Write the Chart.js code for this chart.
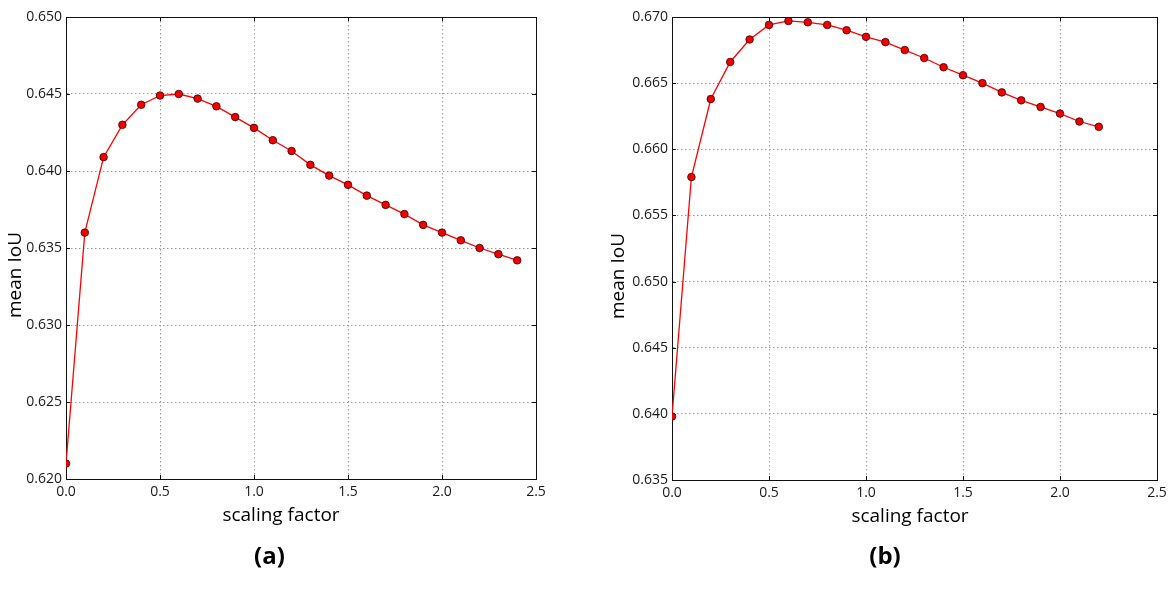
<!DOCTYPE html>
<html>
<head>
<meta charset="utf-8">
<script src="https://cdn.jsdelivr.net/npm/chart.js@4.4.1/dist/chart.umd.min.js"></script>
<style>
html,body{margin:0;padding:0;background:#fff;}
#wrap{position:relative;width:1175px;height:600px;overflow:hidden;}
.box{position:absolute;top:0;height:600px;width:575px;}
</style>
</head>
<body>
<div id="wrap">
  <div class="box" style="left:0px"><canvas id="chartA"></canvas></div>
  <div class="box" style="left:600px"><canvas id="chartB"></canvas></div>
</div>
<script>
// ---- data ----
const scalingA = [0.0,0.1,0.2,0.3,0.4,0.5,0.6,0.7,0.8,0.9,1.0,1.1,1.2,1.3,1.4,1.5,1.6,1.7,1.8,1.9,2.0,2.1,2.2,2.3,2.4];
const iouA = [0.6210,0.6360,0.6409,0.6430,0.6443,0.6449,0.6450,0.6447,0.6442,0.6435,0.6428,0.6420,0.6413,0.6404,0.6397,0.6391,0.6384,0.6378,0.6372,0.6365,0.6360,0.6355,0.6350,0.6346,0.6342];
const scalingB = [0.0,0.1,0.2,0.3,0.4,0.5,0.6,0.7,0.8,0.9,1.0,1.1,1.2,1.3,1.4,1.5,1.6,1.7,1.8,1.9,2.0,2.1,2.2];
const iouB = [0.6398,0.6579,0.6638,0.6666,0.6683,0.6694,0.6697,0.6696,0.6694,0.6690,0.6685,0.6681,0.6675,0.6669,0.6662,0.6656,0.6650,0.6643,0.6637,0.6632,0.6627,0.6621,0.6617];
const xAxisRange = [0.0, 2.5];
const xTickStep = 0.5;
const yRangeA = [0.620, 0.650];
const yRangeB = [0.635, 0.670];
const yTickStep = 0.005;
const xTitle = 'scaling factor';
const yTitle = 'mean IoU';
const panelA = '(a)';
const panelB = '(b)';

Chart.defaults.font.family = '"Open Sans", sans-serif';
Chart.defaults.color = '#1a1a1a';

// frame + inner tick marks (matplotlib style)
const frameTicks = {
  id: 'frameTicks',
  beforeDatasetsDraw(chart) {
    const {ctx, chartArea: a, scales} = chart;
    const x = scales.x, y = scales.y;
    ctx.save();
    ctx.strokeStyle = '#111';
    ctx.lineWidth = 1;
    ctx.strokeRect(Math.round(a.left) + 0.5, Math.round(a.top) + 0.5,
                   Math.round(a.right) - Math.round(a.left), Math.round(a.bottom) - Math.round(a.top));
    ctx.beginPath();
    x.ticks.forEach(t => {
      const px = Math.round(x.getPixelForValue(t.value)) + 0.5;
      ctx.moveTo(px, a.bottom); ctx.lineTo(px, a.bottom - 4);
      ctx.moveTo(px, a.top); ctx.lineTo(px, a.top + 4);
    });
    y.ticks.forEach(t => {
      const py = Math.round(y.getPixelForValue(t.value)) + 0.5;
      ctx.moveTo(a.left, py); ctx.lineTo(a.left + 4, py);
      ctx.moveTo(a.right, py); ctx.lineTo(a.right - 4, py);
    });
    ctx.stroke();
    ctx.restore();
  }
};

// axis titles and panel label
const panelText = {
  id: 'panelText',
  afterDraw(chart, args, o) {
    const ctx = chart.ctx;
    ctx.save();
    ctx.fillStyle = '#000';
    ctx.textAlign = 'center';
    ctx.textBaseline = 'middle';
    ctx.font = '19px "Open Sans", sans-serif';
    ctx.fillText(o.xTitle, o.xPos[0], o.xPos[1]);
    ctx.save();
    ctx.translate(o.yPos[0], o.yPos[1]);
    ctx.rotate(-Math.PI / 2);
    ctx.fillText(o.yTitle, 0, 0);
    ctx.restore();
    ctx.font = 'bold 24px "Open Sans", sans-serif';
    ctx.fillText(o.panel, o.pPos[0], o.pPos[1]);
    ctx.restore();
  }
};

function makeChart(id, xs, ys, yRange, yAxisWidth, padRight, padBottom, text) {
  const points = xs.map((v, i) => ({x: v, y: ys[i]}));
  return new Chart(document.getElementById(id), {
    type: 'line',
    data: {
      datasets: [{
        data: points,
        borderColor: '#ff0000',
        borderWidth: 1.3,
        pointRadius: 3.8,
        pointBackgroundColor: '#f00000',
        pointBorderColor: '#3a0000',
        pointBorderWidth: 0.8,
        tension: 0,
        fill: false
      }]
    },
    options: {
      responsive: true,
      maintainAspectRatio: false,
      animation: false,
      layout: {padding: {left: 0, top: 17, right: padRight, bottom: padBottom}},
      plugins: {
        legend: {display: false},
        tooltip: {enabled: false},
        panelText: text
      },
      scales: {
        x: {
          type: 'linear',
          min: xAxisRange[0], max: xAxisRange[1],
          afterFit: s => { s.height = 28; },
          ticks: {stepSize: xTickStep, padding: 5, font: {size: 14}, color: '#1a1a1a',
                  callback: v => Number(v).toFixed(1), maxRotation: 0},
          grid: {color: '#9a9a9a', lineWidth: 1, drawTicks: false},
          border: {display: true, color: '#111', width: 1, dash: [1.5, 2.5]}
        },
        y: {
          type: 'linear',
          min: yRange[0], max: yRange[1],
          afterFit: s => { s.width = yAxisWidth; },
          ticks: {stepSize: yTickStep, padding: 4, font: {size: 14}, color: '#1a1a1a',
                  callback: v => Number(v).toFixed(3)},
          grid: {color: '#9a9a9a', lineWidth: 1, drawTicks: false},
          border: {display: true, color: '#111', width: 1, dash: [1.5, 2.5]}
        }
      }
    },
    plugins: [frameTicks, panelText]
  });
}

makeChart('chartA', scalingA, iouA, yRangeA, 66, 39, 93,
  {xTitle: xTitle, yTitle: yTitle, panel: panelA, xPos: [281, 516], yPos: [15.5, 275], pPos: [269.5, 557]});
makeChart('chartB', scalingB, iouB, yRangeB, 72, 18, 92,
  {xTitle: xTitle, yTitle: yTitle, panel: panelB, xPos: [310, 517], yPos: [19, 276], pPos: [285, 557]});
</script>
</body>
</html>
